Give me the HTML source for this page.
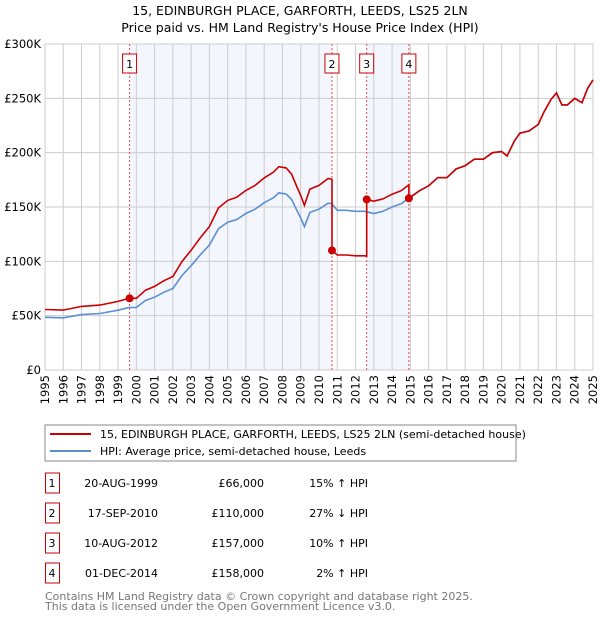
<!DOCTYPE html>
<html><head><meta charset="utf-8"><style>
body{margin:0;background:#fff;font-family:"Liberation Sans","DejaVu Sans",sans-serif;}
svg text{font-family:"DejaVu Sans","Liberation Sans",sans-serif;}
</style></head><body>
<svg id="c" width="600" height="620" xmlns="http://www.w3.org/2000/svg">
<text x="300" y="15" text-anchor="middle" font-size="12.5">15, EDINBURGH PLACE, GARFORTH, LEEDS, LS25 2LN</text>
<text x="300" y="32" text-anchor="middle" font-size="12.5">Price paid vs. HM Land Registry's House Price Index (HPI)</text>
<g id="plot"></g>
<rect x="45" y="425" width="471" height="36" fill="#fff" stroke="#888"/>
<line x1="50" y1="434" x2="91" y2="434" stroke="#cc0000" stroke-width="2"/>
<text x="100" y="438" font-size="11">15, EDINBURGH PLACE, GARFORTH, LEEDS, LS25 2LN (semi-detached house)</text>
<line x1="50" y1="451" x2="91" y2="451" stroke="#5b8fd4" stroke-width="2"/>
<text x="100" y="455" font-size="11">HPI: Average price, semi-detached house, Leeds</text>
<g id="table" font-size="11"></g>
<text x="45" y="600" font-size="11" fill="#777">Contains HM Land Registry data © Crown copyright and database right 2025.</text>
<text x="45" y="610" font-size="11" fill="#777">This data is licensed under the Open Government Licence v3.0.</text>
</svg>
<script>
const hpiYears=[1995,1996,1997,1998,1999,1999.6,2000,2000.5,2001,2001.5,2002,2002.5,2003,2003.5,2004,2004.5,2005,2005.5,2006,2006.5,2007,2007.5,2007.8,2008.2,2008.5,2008.8,2009,2009.2,2009.5,2010,2010.5,2010.7,2011,2011.5,2012,2012.5,2013,2013.5,2014,2014.5,2015,2015.5,2016,2016.5,2017,2017.5,2018,2018.5,2019,2019.5,2020,2020.3,2020.7,2021,2021.5,2022,2022.3,2022.7,2023,2023.3,2023.6,2024,2024.4,2024.7,2025];
const hpiValues=[48.5,48,51,52,55,57.5,57.5,64,67,71.5,75,87,96,106,115,130,136,138.5,144,148,154,158.5,163,162,157,146.5,140,132,145,148,153.5,153,147,147,146,146,144,146,150,153,159,165,169.5,177,177,185,188,194,194,200,201,197,211,218,220,226,237,249,255,244,244,250,246,259,267];
const saleLabels=["1","2","3","4"];
const saleYears=[1999.63,2010.71,2012.61,2014.92];
const salePrices=[66,110,157,158];
const saleDates=["20-AUG-1999","17-SEP-2010","10-AUG-2012","01-DEC-2014"];
const salePriceText=["£66,000","£110,000","£157,000","£158,000"];
const saleHpiText=["15% ↑ HPI","27% ↓ HPI","10% ↑ HPI"," 2% ↑ HPI"];
const yTicks=[0,50,100,150,200,250,300];
const yTickLabels=["£0","£50K","£100K","£150K","£200K","£250K","£300K"];
const NS="http://www.w3.org/2000/svg";
const X0=45,X1=593,Y0=370,Y1=44;
const xs=t=>X0+(t-1995)/30*(X1-X0);
const ys=v=>Y0-v/300*(Y0-Y1);
const g=document.getElementById('plot');
function mk(tag,at,parent){const e=document.createElementNS(NS,tag);for(const k in at)e.setAttribute(k,at[k]);(parent||g).appendChild(e);return e;}
function hpiAt(t){for(let i=0;i<hpiYears.length-1;i++){if(t<=hpiYears[i+1]){const f=(t-hpiYears[i])/(hpiYears[i+1]-hpiYears[i]);return hpiValues[i]+f*(hpiValues[i+1]-hpiValues[i]);}}return hpiValues[hpiValues.length-1];}
for(let i=0;i<saleYears.length;i+=2){
 const r=mk('rect',{x:xs(saleYears[i]),y:Y1,width:xs(saleYears[i+1])-xs(saleYears[i]),height:Y0-Y1,fill:'#f3f6fd'});
 
 
}
for(let y=1995;y<=2025;y++){
 const l=mk('line',{x1:xs(y),x2:xs(y),y1:Y1,y2:Y0,stroke:'#ccc','stroke-width':1});
 
 
 const t=mk('text',{x:0,y:0,'font-size':11.5,'text-anchor':'end',transform:`translate(${xs(y)+4},${Y0+5}) rotate(-90)`});
 t.textContent=y;
 
 
}
yTicks.forEach((v,i)=>{
 const l=mk('line',{x1:X0,x2:X1,y1:ys(v),y2:ys(v),stroke:'#ccc','stroke-width':1});
 
 
 const t=mk('text',{x:X0-4,y:ys(v)+4,'font-size':11.5,'text-anchor':'end'});
 t.textContent=yTickLabels[i];
 
 
});
const fr=mk('rect',{x:X0,y:Y1,width:X1-X0,height:Y0-Y1,fill:'none',stroke:'#ccc'});


saleYears.forEach((t,i)=>{
 const l=mk('line',{x1:xs(t),x2:xs(t),y1:Y1,y2:Y0,stroke:'#e05050','stroke-width':1,'stroke-dasharray':'2,2'});
 
 
 const b=mk('rect',{x:xs(t)-7,y:54,width:14,height:19,fill:'#fff',stroke:'#cc0000'});
 
 
 const tx=mk('text',{x:xs(t),y:68,'font-size':11,'text-anchor':'middle'});
 tx.textContent=saleLabels[i];
 
 
});
const hp=mk('path',{d:hpiYears.map((t,i)=>(i?'L':'M')+xs(t).toFixed(1)+','+ys(hpiValues[i]).toFixed(1)).join(''),fill:'none',stroke:'#5b8fd4','stroke-width':1.6});


let pts=[];
function ratioAt(t){let k=0;for(let i=0;i<saleYears.length;i++)if(t>=saleYears[i])k=i;return salePrices[k]/hpiAt(saleYears[k]);}
const times=hpiYears.concat(saleYears).sort((a,b)=>a-b);
times.forEach(t=>{
 const idx=saleYears.indexOf(t);
 if(idx>0)pts.push([t,hpiAt(t)*salePrices[idx-1]/hpiAt(saleYears[idx-1])]);
 pts.push([t,hpiAt(t)*ratioAt(t)]);
});
const pr=mk('path',{d:pts.map((p,i)=>(i?'L':'M')+xs(p[0]).toFixed(1)+','+ys(p[1]).toFixed(1)).join(''),fill:'none',stroke:'#cc0000','stroke-width':1.6});


saleYears.forEach((t,i)=>{
 const c=mk('circle',{cx:xs(t),cy:ys(salePrices[i]),r:4,fill:'#cc0000'});
 
 
});
const tb=document.getElementById('table');
saleLabels.forEach((lab,i)=>{
 const y=483+i*30;
 const b=mk('rect',{x:45.5,y:y-10,width:14,height:20,fill:'#fff',stroke:'#cc0000'},tb);
 
 
 const cells=[[52,lab,'middle'],[158,saleDates[i],'end'],[264,salePriceText[i],'end'],[368,saleHpiText[i],'end']];
 cells.forEach(c=>{
  const t=mk('text',{x:c[0],y:y+4,'text-anchor':c[2],'xml:space':'preserve'},tb);
  t.textContent=c[1];
  
  
 });
});
</script>
</body></html>
